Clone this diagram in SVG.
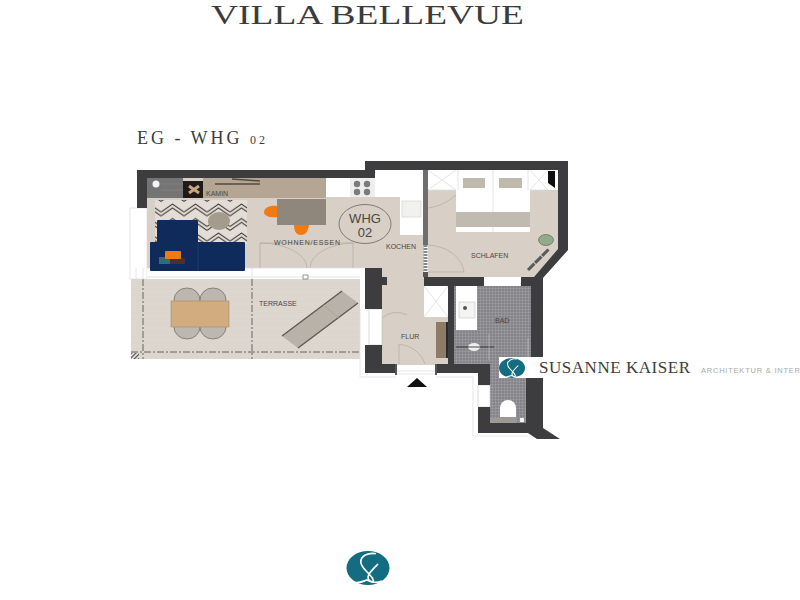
<svg xmlns="http://www.w3.org/2000/svg" width="800" height="600" viewBox="0 0 800 600">
<style>
.wall{fill:#3d3d3f}
.floor{fill:#d8d0c7}
.thin{fill:none;stroke:#a9a49e;stroke-width:.6}
.wl{fill:none;stroke:#dedede;stroke-width:.8}
.dash{fill:none;stroke:#66625e;stroke-width:1;stroke-dasharray:7 2 2 2}
.lab{font-family:"Liberation Sans",Arial,sans-serif;font-size:7px;fill:#4a4642}
.ttl{font-family:"Liberation Serif","Times New Roman",serif;fill:#3c3c3c}
.chair{fill:#bdb8af;stroke:#85817a;stroke-width:1}
</style>
<defs>
<pattern id="tile" width="3" height="3" patternUnits="userSpaceOnUse"><rect width="3" height="3" fill="#84848a"/><path d="M0 0H3M0 0V3" stroke="#b0b0b5" stroke-width=".6"/></pattern>
<pattern id="deck" width="4" height="2.4" patternUnits="userSpaceOnUse"><rect width="4" height="2.4" fill="#ded7d0"/><path d="M0 0H4" stroke="#d3ccc5" stroke-width=".5"/></pattern>
<pattern id="rug" width="23" height="14.5" patternUnits="userSpaceOnUse"><rect width="23" height="14.5" fill="#e4ddd5"/><path d="M0 9L11.5 1L23 9M0 13L11.5 5L23 13" fill="none" stroke="#2a2825" stroke-width="1"/></pattern>
<pattern id="hatch" width="3" height="3" patternUnits="userSpaceOnUse" patternTransform="rotate(-45)"><rect width="3" height="3" fill="#fff"/><rect width="3" height="1.5" fill="#555"/></pattern>
<g id="logoMark"><path d="M7 -12C1 -13 -5 -10 -5 -5C-5 0 3 5 5 9C6 11 5 12 3 11C-2 8 3 3 9 -3M-11 12C-6 13 -3 11 0 10C4 12 8 13 12 11" transform="translate(-1,0)" fill="none" stroke="#fff" stroke-width="1.400" stroke-linecap="round"/></g>
</defs>
<rect width="800" height="600" fill="#fff"/>

<text class="ttl" x="211" y="24" font-size="26.500" textLength="313" lengthAdjust="spacingAndGlyphs">VILLA BELLEVUE</text>
<text class="ttl" x="137" y="144" font-size="18" textLength="128" lengthAdjust="spacing">EG - WHG <tspan font-size="12">02</tspan></text>

<g id="terrace">
<rect x="131" y="279" width="229" height="80" fill="url(#deck)"/>
<path class="dash" d="M143 279V359M252 279V359M131 352H360"/>
<rect x="131" y="353" width="8" height="6" fill="url(#hatch)"/>
<g id="terrace-table">
<ellipse class="chair" cx="187" cy="300" rx="13" ry="12"/><ellipse class="chair" cx="213" cy="300" rx="13" ry="12"/>
<ellipse class="chair" cx="187" cy="327" rx="13" ry="12"/><ellipse class="chair" cx="213" cy="327" rx="13" ry="12"/>
<rect x="171" y="301" width="58" height="26" fill="#d2ab7f" stroke="#a88a66" stroke-width=".6"/>
</g>
<g id="lounger"><polygon points="282,336 342,291 358,303 298,348" fill="#b9b2a8"/><path d="M282 336L342 291M298 348L358 303" stroke="#5d5a55" stroke-width="1.400"/><path d="M323 305L339 318" stroke="#a39d94" stroke-width=".7"/></g>
<text class="lab" x="259" y="306">TERRASSE</text>
</g>

<g id="living">
<rect x="147" y="178" width="230" height="90" class="floor"/>
<rect x="130" y="208" width="17" height="71" fill="#fff" stroke="#d6d6d6" stroke-width=".6"/>
<rect x="147" y="268" width="213" height="11" fill="#fff"/>
<path class="wl" d="M147 268H360M147 277H360M252 268V279M136 268V279M143 268V279"/>
<rect x="303" y="275" width="5" height="4" fill="#fff" stroke="#555" stroke-width=".6"/>
<path class="thin" d="M260 268V243H353V268M260 243A48 25 0 0 1 307 268M353 243A46 25 0 0 0 310 268"/>
<rect x="155" y="200" width="92" height="44" fill="url(#rug)"/>
<ellipse cx="219" cy="221" rx="11" ry="9" fill="#a39c8d"/>
<g id="sofa">
<rect x="157" y="220" width="41" height="26" rx="1" fill="#0e2b5c"/>
<rect x="150" y="242" width="95" height="29" rx="1" fill="#0e2b5c"/>
<path d="M198 243V271" stroke="#2e4874" stroke-width=".6"/>
<rect x="159" y="257" width="14" height="7" fill="#2f6f73"/><rect x="170" y="258" width="15" height="6" fill="#4e2b3f"/>
<rect x="165" y="251" width="16" height="8" rx="1" fill="#f27a12"/>
</g>
<g id="dining">
<path d="M277 206C270 205 264 208 264 212C264 216 270 218 277 217Z" fill="#f27a12"/>
<path d="M294 225C294 232 297 235 301 235C305 235 308 232 309 225Z" fill="#f27a12"/>
<rect x="277" y="199" width="49" height="26" fill="#8f877c"/>
</g>
<text class="lab" x="274" y="245" textLength="66">WOHNEN/ESSEN</text>
</g>

<g id="kitchen-run">
<rect x="147" y="178" width="36" height="20" fill="#747474"/>
<path d="M161 184H183M161 190H183" stroke="#8c8c8c" stroke-width=".5"/>
<circle cx="156" cy="184" r="3.500" fill="#f4f4f4"/>
<rect x="183" y="181" width="20" height="17" fill="#1f1a18"/>
<path d="M189 186L199 193M199 186L189 193" stroke="#c8a67e" stroke-width="3"/>
<rect x="203" y="178" width="123" height="20" fill="#b5a593"/>
<path d="M215 184H260M232 179L260 181" stroke="#524a45" stroke-width="1.400"/>
<text class="lab" x="206" y="196">KAMIN</text>
<rect x="326" y="178" width="24" height="19" fill="#fff"/>
<rect x="350" y="178" width="25" height="19" fill="#eeeeee"/>
<circle cx="357" cy="184" r="3.200" fill="#7b7b7b"/><circle cx="367" cy="184" r="3.200" fill="#7b7b7b"/>
<circle cx="357" cy="192" r="3.200" fill="#7b7b7b"/><circle cx="367" cy="192" r="3.200" fill="#7b7b7b"/>
</g>

<g id="kitchen">
<rect x="365" y="197" width="59" height="80" class="floor"/>
<rect x="375" y="170" width="49" height="27" fill="#fff"/>
<rect x="400" y="197" width="24" height="38" fill="#fff"/>
<rect x="402" y="201" width="19" height="16" fill="#f1f1ef" stroke="#cccccc" stroke-width=".6"/>
<text class="lab" x="386" y="249">KOCHEN</text>
</g>

<g id="bedroom">
<polygon points="428,170 558,170 558,250 534,277 428,277" class="floor"/>
<rect x="428" y="170" width="130" height="20" fill="#fff"/>
<path class="wl" d="M428 170L456 190M456 170L428 190M530 170L548 190M548 170L530 190M428 190H456M530 190H548"/>
<g id="bed">
<rect x="456" y="170" width="74" height="62" fill="#fff"/>
<path d="M493 170V232M458 170V190M528 170V190" stroke="#dcdcdc" stroke-width=".8"/>
<rect x="463" y="178" width="22" height="10" fill="#bfb9ae"/><rect x="499" y="178" width="23" height="10" fill="#bfb9ae"/>
<rect x="456" y="212" width="74" height="15" fill="#c0bab0"/>
</g>
<path d="M548 171H555V188L548 183Z" fill="#0f0f0f"/>
<path class="thin" d="M428 208C442 206 450 200 456 195"/>
<path class="thin" d="M428 245A38 30 0 0 1 464 272H428"/>
<ellipse cx="546" cy="240" rx="7.500" ry="5.500" fill="#93a98e" stroke="#5e6e5c" stroke-width=".7"/>
<path d="M528 270L549 249" stroke="#5a5a5a" stroke-width="3" stroke-dasharray="9 1"/>
<text class="lab" x="471" y="258">SCHLAFEN</text>
</g>

<g id="hall">
<rect x="382" y="277" width="66" height="88" class="floor"/>
<rect x="424" y="286" width="24" height="31" fill="#fff"/>
<path class="wl" d="M424 286L448 317M448 286L424 317"/>
<rect x="436" y="322" width="11" height="36" fill="#8d7b67"/>
<rect x="446" y="322" width="2" height="36" fill="#2a2a2a"/>
<path class="thin" d="M382 350V318A26 32 0 0 1 407 315M399 364V344A30 30 0 0 1 425 364"/>
<rect x="369" y="309" width="13" height="36" fill="#fff" stroke="#cfcfcf" stroke-width=".7"/>
<path class="wl" d="M360 309V377H396M436 377H473V436H528M396 371H436M396 374H436"/>
<text class="lab" x="401" y="339">FLUR</text>
<polygon points="407,387 417,378 427,387" fill="#111"/>
</g>

<g id="bath">
<rect x="454" y="286" width="77" height="78" fill="url(#tile)"/>
<rect x="490" y="360" width="36" height="63" fill="url(#tile)"/>
<rect x="456" y="286" width="21" height="44" fill="#fff"/>
<rect x="459" y="302" width="16" height="16" fill="#f4f4f4" stroke="#bbb" stroke-width=".5"/>
<circle cx="465" cy="308" r="2" fill="#555"/>
<ellipse cx="474" cy="347" rx="6" ry="4" fill="#eee"/>
<path d="M456 347H494" stroke="#222" stroke-width=".8"/>
<path d="M489 334V360M528 338V358" stroke="#bdbdc2" stroke-width=".7"/>
<path d="M500 408A8 8 0 0 1 516 408V417H500Z" fill="#fff"/>
<rect x="490" y="418" width="26" height="5" fill="#9d9a94"/>
<rect x="520" y="418" width="4" height="4" fill="#f3f3f3"/>
<rect x="478" y="385" width="12" height="22" fill="#fff" stroke="#cfcfcf" stroke-width=".7"/>
<text class="lab" x="495" y="323">BAD</text>
</g>

<g id="walls">
<path class="wall" d="M137 170H365V161H568V250L543 278V357H531V286H521V277H534L558 249V170H375V178H147V208H137Z"/>
<rect class="wall" x="365" y="268" width="17" height="41"/>
<rect class="wall" x="382" y="277" width="5" height="8"/>
<rect class="wall" x="365" y="345" width="17" height="28"/>
<rect class="wall" x="382" y="364" width="14" height="9"/>
<rect class="wall" x="424" y="277" width="60" height="9"/>
<rect class="wall" x="448" y="286" width="6" height="78"/>
<path class="wall" d="M437 364H490V423H526V378H543V428L560 439H537L528 433H478V407H490V385H478V373H437Z"/>
<rect x="423" y="170" width="5" height="75" fill="#6e6e70"/>
<path d="M425.500 245V272" stroke="#8a8a8a" stroke-width="4" stroke-dasharray="2 1"/>
<rect x="423" y="272" width="5" height="5" fill="#555"/>
<path d="M396 364V375M436 364V375" stroke="#555" stroke-width="2"/>
</g>

<g id="brand">
<rect x="499" y="357" width="301" height="21" fill="#fff"/>
<ellipse cx="512" cy="368" rx="13" ry="10" fill="#136c80"/>
<use href="#logoMark" transform="translate(512,368) scale(.75)"/>
<text class="ttl" x="539" y="373" font-size="17" textLength="151" lengthAdjust="spacing" fill="#222">SUSANNE KAISER</text>
<text x="701" y="373" font-family="'Liberation Sans',Arial,sans-serif" font-size="7.500" fill="#a8a8a8" textLength="99">ARCHITEKTUR &amp; INTER</text>
</g>

<g id="logo-bottom">
<ellipse cx="368" cy="568" rx="21.500" ry="17" fill="#136c80"/>
<use href="#logoMark" transform="translate(368,568) scale(1.200)"/>
</g>

<g id="whg-badge">
<ellipse cx="365" cy="224" rx="26" ry="19.500" fill="none" stroke="#6a6560" stroke-width=".8"/>
<text x="365" y="223" text-anchor="middle" font-family="'Liberation Sans',Arial,sans-serif" font-size="13" fill="#4a4642">WHG</text>
<text x="365" y="237" text-anchor="middle" font-family="'Liberation Sans',Arial,sans-serif" font-size="13" fill="#4a4642">02</text>
</g>
</svg>
